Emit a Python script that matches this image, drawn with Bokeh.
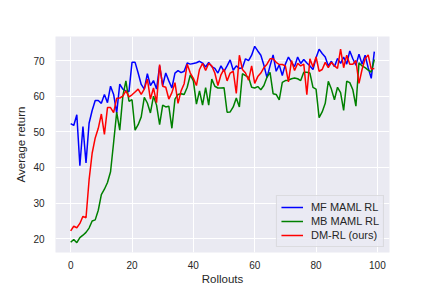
from bokeh.plotting import figure
from bokeh.models import FixedTicker, Range1d, Legend, LegendItem
from bokeh.embed import file_html
from bokeh.resources import INLINE

rollouts = list(range(100))

mf_maml_rl = [
    52.3, 51.8, 54.8, 40.5, 51.5, 41.3, 52.4, 56.0, 58.8, 58.8,
    58.0, 60.5, 58.2, 62.8, 60.5, 55.3, 63.4, 62.0, 61.5, 61.3,
    69.5, 69.5, 66.5, 63.3, 62.0, 66.3, 63.0, 64.4, 62.0, 68.5,
    63.0, 66.5, 64.3, 62.3, 66.5, 67.2, 66.6, 67.0, 69.3, 69.0,
    69.2, 69.4, 69.8, 69.3, 68.2, 69.5, 68.3, 67.8, 66.5, 68.5,
    67.0, 68.5, 70.2, 67.3, 68.5, 67.8, 68.0, 70.5, 70.0, 71.5,
    74.0, 72.7, 71.5, 68.7, 65.2, 68.5, 71.6, 67.0, 68.8, 65.8,
    69.0, 71.0, 69.5, 68.3, 71.0, 69.2, 70.3, 69.3, 68.5, 67.5,
    70.8, 73.2, 72.0, 71.0, 68.5, 69.8, 68.3, 70.6, 69.2, 71.0,
    69.0, 72.7, 70.5, 68.7, 71.8, 69.0, 71.5, 68.0, 65.0, 72.5,
]

mb_maml_rl = [
    19.0, 19.8, 18.9, 20.3, 21.0, 21.8, 23.0, 25.0, 25.3, 28.0,
    32.4, 33.9, 35.8, 38.8, 47.0, 55.5, 50.5, 60.0, 64.3, 58.6,
    59.0, 50.5, 52.0, 54.2, 59.7, 58.1, 55.3, 60.0, 57.5, 52.0,
    57.5, 57.0, 57.2, 51.0, 59.2, 60.5, 60.7, 60.5, 62.5, 66.0,
    64.3, 57.8, 61.5, 57.5, 62.4, 57.5, 64.8, 62.8, 62.3, 62.3,
    62.4, 55.5, 55.6, 57.0, 59.5, 57.0, 66.3, 65.8, 65.3, 62.5,
    62.3, 62.7, 61.8, 63.0, 65.3, 66.7, 60.7, 60.5, 59.0, 63.9,
    64.4, 64.5, 64.9, 65.1, 64.9, 64.4, 66.7, 66.7, 66.5, 62.5,
    62.0, 54.0, 55.6, 58.0, 64.2, 62.0, 59.0, 62.5, 61.0, 56.0,
    64.2, 63.8, 61.8, 57.2, 69.4, 68.5, 68.0, 67.3, 66.8, 70.3,
]

dm_rl_ours = [
    22.2, 23.5, 23.1, 24.3, 26.3, 25.9, 36.5, 44.0, 48.3, 51.0,
    55.0, 49.3, 56.8, 56.8, 55.4, 59.4, 59.5, 60.0, 61.5, 59.8,
    60.4, 61.2, 62.0, 60.5, 62.0, 64.8, 59.2, 62.3, 58.2, 68.9,
    62.8, 62.5, 59.2, 61.0, 63.8, 58.0, 61.5, 63.5, 69.0, 66.5,
    65.0, 63.0, 67.5, 69.2, 67.2, 69.2, 68.5, 66.5, 63.0, 66.0,
    67.6, 64.3, 66.5, 67.0, 60.8, 71.5, 67.5, 66.5, 64.5, 68.5,
    63.6, 65.5, 66.5, 68.0, 69.0, 70.5, 70.5, 69.5, 68.9, 68.9,
    68.5, 64.0, 70.0, 67.2, 69.2, 68.5, 69.0, 60.4, 70.5, 68.2,
    71.0, 67.0, 67.5, 69.5, 68.0, 69.5, 68.5, 67.8, 73.2, 68.0,
    71.5, 69.0, 69.0, 70.0, 63.6, 67.5, 70.5, 71.6, 67.6, 67.8,
]

series_labels = ["MF MAML RL", "MB MAML RL", "DM-RL (ours)"]
series_colors = ["blue", "green", "red"]
x_ticks = [0, 20, 40, 60, 80, 100]
y_ticks = [20, 30, 40, 50, 60, 70]

FONT = "Liberation Sans"
TXT = "#262626"

all_vals = mf_maml_rl + mb_maml_rl + dm_rl_ours
ylo, yhi = min(all_vals), max(all_vals)
ypad = 0.05 * (yhi - ylo)
xlo, xhi = min(rollouts), max(rollouts)
xpad = 0.05 * (xhi - xlo)

p = figure(
    width=432, height=288,
    output_backend="svg", toolbar_location=None,
    x_range=Range1d(xlo - xpad, xhi + xpad),
    y_range=Range1d(ylo - ypad, yhi + ypad),
    min_border_left=55, min_border_right=43,
    min_border_top=36, min_border_bottom=36,
    background_fill_color="#EAEAF2",
    border_fill_color="white",
)
p.outline_line_color = None

p.xaxis.ticker = FixedTicker(ticks=x_ticks)
p.yaxis.ticker = FixedTicker(ticks=y_ticks)
p.xgrid.ticker = FixedTicker(ticks=x_ticks)
p.ygrid.ticker = FixedTicker(ticks=y_ticks)
p.grid.grid_line_color = "white"
p.grid.grid_line_width = 1

for ax in (p.xaxis, p.yaxis):
    ax.axis_line_color = None
    ax.major_tick_line_color = None
    ax.minor_tick_line_color = None
    ax.major_tick_out = 0
    ax.major_tick_in = 0
    ax.minor_tick_out = 0
    ax.minor_tick_in = 0
    ax.major_label_text_font = FONT
    ax.major_label_text_font_size = "10px"
    ax.major_label_text_color = TXT
    ax.axis_label_text_font = FONT
    ax.axis_label_text_font_size = "11.5px"
    ax.axis_label_text_font_style = "normal"
    ax.axis_label_text_color = TXT

p.xaxis.axis_label = "Rollouts"
p.yaxis.axis_label = "Average return"
p.xaxis.major_label_standoff = 8
p.xaxis.axis_label_standoff = 1
p.yaxis.major_label_standoff = 11
p.yaxis.axis_label_standoff = 3

items = []
for ys, lab, col in zip([mf_maml_rl, mb_maml_rl, dm_rl_ours], series_labels, series_colors):
    r = p.line(rollouts, ys, line_color=col, line_width=1.5)
    items.append(LegendItem(label=lab, renderers=[r]))

legend = Legend(items=items, location="bottom_right")
legend.margin = 5
legend.padding = 4
legend.spacing = 0
legend.glyph_width = 22
legend.glyph_height = 14
legend.label_height = 14
legend.label_standoff = 8
legend.label_text_font = FONT
legend.label_text_font_size = "11px"
legend.label_text_color = TXT
legend.border_line_color = "#CCCCCC"
legend.border_line_width = 1
legend.background_fill_color = "#EAEAF2"
legend.background_fill_alpha = 0.8
p.add_layout(legend)

open("out.html", "w").write(file_html(p, INLINE))
